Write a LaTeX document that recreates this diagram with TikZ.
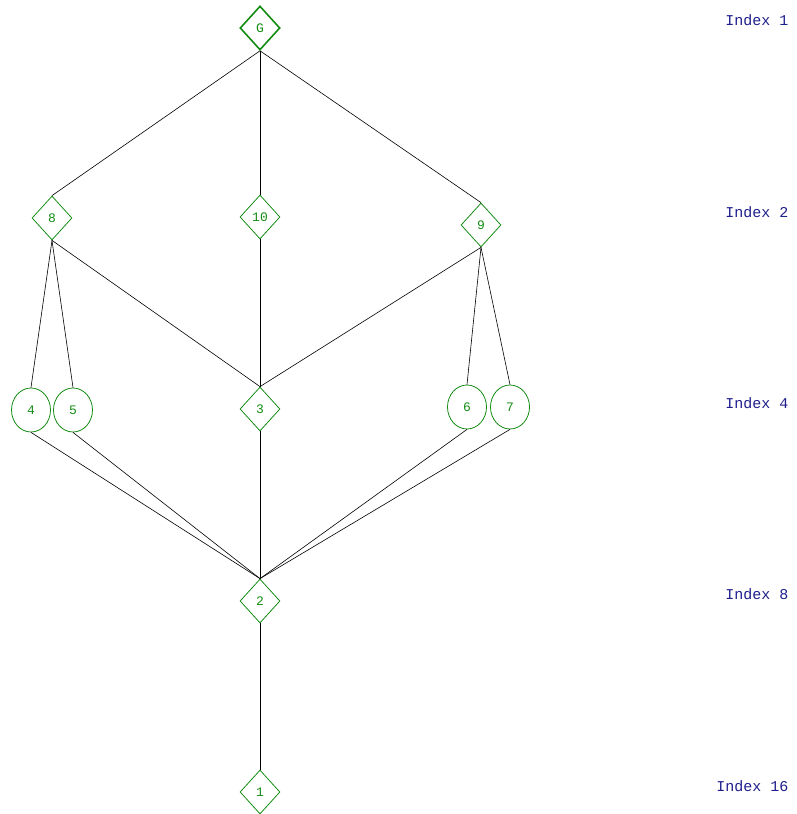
\documentclass[tikz,border=0pt]{standalone}
\usepackage{fontspec}
\usepackage{xcolor}
\usepackage{tikz}
\setmonofont{Liberation Mono}
\usetikzlibrary{shapes,shapes.geometric,positioning,calc}
\definecolor{nodegreen}{RGB}{20,140,20}
\definecolor{indexblue}{RGB}{30,30,140}

\begin{document}
\begin{tikzpicture}[x=1pt, y=-1pt,
    dnode/.style={diamond, draw=nodegreen, text=nodegreen, inner sep=0pt,
        minimum width=40pt, minimum height=44pt, line width=0.8pt,
        font=\ttfamily\fontsize{13}{13}\selectfont},
    enode/.style={ellipse, draw=nodegreen, text=nodegreen, inner sep=0pt,
        minimum width=39pt, minimum height=44pt, line width=0.8pt,
        font=\ttfamily\fontsize{13}{13}\selectfont},
    idx/.style={anchor=east, text=indexblue,
        font=\ttfamily\fontsize{15}{15}\selectfont},
    edge/.style={black, line width=0.6pt}]
    \useasboundingbox (0,0) rectangle (796,814);

    % nodes
    \node[dnode, line width=1.6pt] (g) at (260,28) {G};
    \node[dnode] (n8) at (52,218) {8};
    \node[dnode] (n10) at (260,217) {10};
    \node[dnode] (n9) at (481,225) {9};
    \node[enode] (n4) at (31,410) {4};
    \node[enode] (n5) at (73,410) {5};
    \node[dnode] (n3) at (260,409) {3};
    \node[enode] (n6) at (467,407) {6};
    \node[enode] (n7) at (510,407) {7};
    \node[dnode] (n2) at (260,601) {2};
    \node[dnode] (n1) at (260,792) {1};

    % edges
    \draw[edge] (g.south) -- (n8.north);
    \draw[edge] (g.south) -- (n10.north);
    \draw[edge] (g.south) -- (n9.north);
    \draw[edge] (n8.south) -- (n4.north);
    \draw[edge] (n8.south) -- (n5.north);
    \draw[edge] (n8.south) -- (n3.north);
    \draw[edge] (n10.south) -- (n3.north);
    \draw[edge] (n9.south) -- (n3.north);
    \draw[edge] (n9.south) -- (n6.north);
    \draw[edge] (n9.south) -- (n7.north);
    \draw[edge] (n4.south) -- (n2.north);
    \draw[edge] (n5.south) -- (n2.north);
    \draw[edge] (n3.south) -- (n2.north);
    \draw[edge] (n6.south) -- (n2.north);
    \draw[edge] (n7.south) -- (n2.north);
    \draw[edge] (n2.south) -- (n1.north);

    % index labels
    \node[idx] (i1) at (792,20) {Index 1};
    \node[idx] (i2) at (792,212) {Index 2};
    \node[idx] (i4) at (792,403) {Index 4};
    \node[idx] (i8) at (792,594) {Index 8};
    \node[idx] (i16) at (792,786) {Index 16};
\end{tikzpicture}
\end{document}
